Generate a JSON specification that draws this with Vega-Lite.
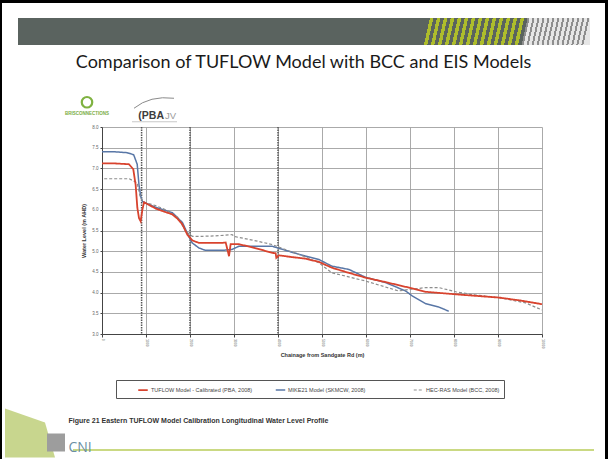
{
  "$schema": "https://vega.github.io/schema/vega-lite/v6.json",
  "padding": 0,
  "background": "#ffffff",
  "spacing": 0,
  "config": {"view": {"stroke": null}, "font": "Liberation Sans", "concat": {"spacing": 0}},
  "datasets": {
    "structures": [{"chainage": 900}, {"chainage": 2000}, {"chainage": 4000}],
    "profiles": [
      {"series": "MIKE21 Model (SKMCW, 2008)", "chainage": 0, "level": 7.40},
      {"series": "MIKE21 Model (SKMCW, 2008)", "chainage": 300, "level": 7.40},
      {"series": "MIKE21 Model (SKMCW, 2008)", "chainage": 570, "level": 7.38},
      {"series": "MIKE21 Model (SKMCW, 2008)", "chainage": 720, "level": 7.33},
      {"series": "MIKE21 Model (SKMCW, 2008)", "chainage": 800, "level": 7.10},
      {"series": "MIKE21 Model (SKMCW, 2008)", "chainage": 840, "level": 6.61},
      {"series": "MIKE21 Model (SKMCW, 2008)", "chainage": 880, "level": 6.32},
      {"series": "MIKE21 Model (SKMCW, 2008)", "chainage": 920, "level": 6.20},
      {"series": "MIKE21 Model (SKMCW, 2008)", "chainage": 1000, "level": 6.16},
      {"series": "MIKE21 Model (SKMCW, 2008)", "chainage": 1220, "level": 6.06},
      {"series": "MIKE21 Model (SKMCW, 2008)", "chainage": 1600, "level": 5.93},
      {"series": "MIKE21 Model (SKMCW, 2008)", "chainage": 1830, "level": 5.69},
      {"series": "MIKE21 Model (SKMCW, 2008)", "chainage": 1970, "level": 5.36},
      {"series": "MIKE21 Model (SKMCW, 2008)", "chainage": 2050, "level": 5.20},
      {"series": "MIKE21 Model (SKMCW, 2008)", "chainage": 2200, "level": 5.08},
      {"series": "MIKE21 Model (SKMCW, 2008)", "chainage": 2350, "level": 5.02},
      {"series": "MIKE21 Model (SKMCW, 2008)", "chainage": 2730, "level": 5.02},
      {"series": "MIKE21 Model (SKMCW, 2008)", "chainage": 2950, "level": 5.04},
      {"series": "MIKE21 Model (SKMCW, 2008)", "chainage": 3110, "level": 5.12},
      {"series": "MIKE21 Model (SKMCW, 2008)", "chainage": 3870, "level": 5.12},
      {"series": "MIKE21 Model (SKMCW, 2008)", "chainage": 4020, "level": 5.07},
      {"series": "MIKE21 Model (SKMCW, 2008)", "chainage": 4300, "level": 4.98},
      {"series": "MIKE21 Model (SKMCW, 2008)", "chainage": 4630, "level": 4.88},
      {"series": "MIKE21 Model (SKMCW, 2008)", "chainage": 4930, "level": 4.80},
      {"series": "MIKE21 Model (SKMCW, 2008)", "chainage": 5220, "level": 4.64},
      {"series": "MIKE21 Model (SKMCW, 2008)", "chainage": 5610, "level": 4.56},
      {"series": "MIKE21 Model (SKMCW, 2008)", "chainage": 5990, "level": 4.37},
      {"series": "MIKE21 Model (SKMCW, 2008)", "chainage": 6450, "level": 4.24},
      {"series": "MIKE21 Model (SKMCW, 2008)", "chainage": 6900, "level": 4.04},
      {"series": "MIKE21 Model (SKMCW, 2008)", "chainage": 7050, "level": 3.92},
      {"series": "MIKE21 Model (SKMCW, 2008)", "chainage": 7360, "level": 3.73},
      {"series": "MIKE21 Model (SKMCW, 2008)", "chainage": 7660, "level": 3.65},
      {"series": "MIKE21 Model (SKMCW, 2008)", "chainage": 7880, "level": 3.55},
      {"series": "HEC-RAS Model (BCC, 2008)", "chainage": 50, "level": 6.75},
      {"series": "HEC-RAS Model (BCC, 2008)", "chainage": 620, "level": 6.75},
      {"series": "HEC-RAS Model (BCC, 2008)", "chainage": 800, "level": 6.65},
      {"series": "HEC-RAS Model (BCC, 2008)", "chainage": 860, "level": 6.35},
      {"series": "HEC-RAS Model (BCC, 2008)", "chainage": 920, "level": 6.20},
      {"series": "HEC-RAS Model (BCC, 2008)", "chainage": 1000, "level": 6.17},
      {"series": "HEC-RAS Model (BCC, 2008)", "chainage": 1220, "level": 6.10},
      {"series": "HEC-RAS Model (BCC, 2008)", "chainage": 1450, "level": 6.00},
      {"series": "HEC-RAS Model (BCC, 2008)", "chainage": 1720, "level": 5.82},
      {"series": "HEC-RAS Model (BCC, 2008)", "chainage": 1902, "level": 5.48},
      {"series": "HEC-RAS Model (BCC, 2008)", "chainage": 2053, "level": 5.36},
      {"series": "HEC-RAS Model (BCC, 2008)", "chainage": 2280, "level": 5.36},
      {"series": "HEC-RAS Model (BCC, 2008)", "chainage": 2580, "level": 5.37},
      {"series": "HEC-RAS Model (BCC, 2008)", "chainage": 2955, "level": 5.40},
      {"series": "HEC-RAS Model (BCC, 2008)", "chainage": 3030, "level": 5.35},
      {"series": "HEC-RAS Model (BCC, 2008)", "chainage": 3500, "level": 5.25},
      {"series": "HEC-RAS Model (BCC, 2008)", "chainage": 3870, "level": 5.16},
      {"series": "HEC-RAS Model (BCC, 2008)", "chainage": 4020, "level": 5.10},
      {"series": "HEC-RAS Model (BCC, 2008)", "chainage": 4630, "level": 4.86},
      {"series": "HEC-RAS Model (BCC, 2008)", "chainage": 4930, "level": 4.72},
      {"series": "HEC-RAS Model (BCC, 2008)", "chainage": 5220, "level": 4.48},
      {"series": "HEC-RAS Model (BCC, 2008)", "chainage": 5990, "level": 4.28},
      {"series": "HEC-RAS Model (BCC, 2008)", "chainage": 6740, "level": 4.04},
      {"series": "HEC-RAS Model (BCC, 2008)", "chainage": 7000, "level": 4.08},
      {"series": "HEC-RAS Model (BCC, 2008)", "chainage": 7360, "level": 4.12},
      {"series": "HEC-RAS Model (BCC, 2008)", "chainage": 7660, "level": 4.12},
      {"series": "HEC-RAS Model (BCC, 2008)", "chainage": 8040, "level": 4.02},
      {"series": "HEC-RAS Model (BCC, 2008)", "chainage": 8420, "level": 3.95},
      {"series": "HEC-RAS Model (BCC, 2008)", "chainage": 9020, "level": 3.88},
      {"series": "HEC-RAS Model (BCC, 2008)", "chainage": 9630, "level": 3.75},
      {"series": "HEC-RAS Model (BCC, 2008)", "chainage": 10000, "level": 3.58},
      {"series": "TUFLOW Model - Calibrated (PBA, 2008)", "chainage": 0, "level": 7.12},
      {"series": "TUFLOW Model - Calibrated (PBA, 2008)", "chainage": 300, "level": 7.12},
      {"series": "TUFLOW Model - Calibrated (PBA, 2008)", "chainage": 614, "level": 7.10},
      {"series": "TUFLOW Model - Calibrated (PBA, 2008)", "chainage": 711, "level": 6.98},
      {"series": "TUFLOW Model - Calibrated (PBA, 2008)", "chainage": 765, "level": 6.60},
      {"series": "TUFLOW Model - Calibrated (PBA, 2008)", "chainage": 803, "level": 6.05},
      {"series": "TUFLOW Model - Calibrated (PBA, 2008)", "chainage": 841, "level": 5.80},
      {"series": "TUFLOW Model - Calibrated (PBA, 2008)", "chainage": 879, "level": 5.72},
      {"series": "TUFLOW Model - Calibrated (PBA, 2008)", "chainage": 917, "level": 6.00},
      {"series": "TUFLOW Model - Calibrated (PBA, 2008)", "chainage": 955, "level": 6.18},
      {"series": "TUFLOW Model - Calibrated (PBA, 2008)", "chainage": 1030, "level": 6.14},
      {"series": "TUFLOW Model - Calibrated (PBA, 2008)", "chainage": 1220, "level": 6.03},
      {"series": "TUFLOW Model - Calibrated (PBA, 2008)", "chainage": 1400, "level": 5.96},
      {"series": "TUFLOW Model - Calibrated (PBA, 2008)", "chainage": 1598, "level": 5.89},
      {"series": "TUFLOW Model - Calibrated (PBA, 2008)", "chainage": 1720, "level": 5.78},
      {"series": "TUFLOW Model - Calibrated (PBA, 2008)", "chainage": 1826, "level": 5.65},
      {"series": "TUFLOW Model - Calibrated (PBA, 2008)", "chainage": 1939, "level": 5.40},
      {"series": "TUFLOW Model - Calibrated (PBA, 2008)", "chainage": 2053, "level": 5.26},
      {"series": "TUFLOW Model - Calibrated (PBA, 2008)", "chainage": 2205, "level": 5.20},
      {"series": "TUFLOW Model - Calibrated (PBA, 2008)", "chainage": 2500, "level": 5.20},
      {"series": "TUFLOW Model - Calibrated (PBA, 2008)", "chainage": 2734, "level": 5.20},
      {"series": "TUFLOW Model - Calibrated (PBA, 2008)", "chainage": 2811, "level": 5.21},
      {"series": "TUFLOW Model - Calibrated (PBA, 2008)", "chainage": 2848, "level": 5.05},
      {"series": "TUFLOW Model - Calibrated (PBA, 2008)", "chainage": 2886, "level": 4.88},
      {"series": "TUFLOW Model - Calibrated (PBA, 2008)", "chainage": 2924, "level": 5.17},
      {"series": "TUFLOW Model - Calibrated (PBA, 2008)", "chainage": 3114, "level": 5.17},
      {"series": "TUFLOW Model - Calibrated (PBA, 2008)", "chainage": 3500, "level": 5.07},
      {"series": "TUFLOW Model - Calibrated (PBA, 2008)", "chainage": 3871, "level": 4.96},
      {"series": "TUFLOW Model - Calibrated (PBA, 2008)", "chainage": 3947, "level": 4.95},
      {"series": "TUFLOW Model - Calibrated (PBA, 2008)", "chainage": 3962, "level": 4.84},
      {"series": "TUFLOW Model - Calibrated (PBA, 2008)", "chainage": 4023, "level": 4.90},
      {"series": "TUFLOW Model - Calibrated (PBA, 2008)", "chainage": 4300, "level": 4.86},
      {"series": "TUFLOW Model - Calibrated (PBA, 2008)", "chainage": 4629, "level": 4.82},
      {"series": "TUFLOW Model - Calibrated (PBA, 2008)", "chainage": 4932, "level": 4.74},
      {"series": "TUFLOW Model - Calibrated (PBA, 2008)", "chainage": 5227, "level": 4.60},
      {"series": "TUFLOW Model - Calibrated (PBA, 2008)", "chainage": 5600, "level": 4.48},
      {"series": "TUFLOW Model - Calibrated (PBA, 2008)", "chainage": 5993, "level": 4.36},
      {"series": "TUFLOW Model - Calibrated (PBA, 2008)", "chainage": 6500, "level": 4.24},
      {"series": "TUFLOW Model - Calibrated (PBA, 2008)", "chainage": 6977, "level": 4.12},
      {"series": "TUFLOW Model - Calibrated (PBA, 2008)", "chainage": 7357, "level": 4.02},
      {"series": "TUFLOW Model - Calibrated (PBA, 2008)", "chainage": 7800, "level": 3.98},
      {"series": "TUFLOW Model - Calibrated (PBA, 2008)", "chainage": 8266, "level": 3.94},
      {"series": "TUFLOW Model - Calibrated (PBA, 2008)", "chainage": 9023, "level": 3.88},
      {"series": "TUFLOW Model - Calibrated (PBA, 2008)", "chainage": 9500, "level": 3.81},
      {"series": "TUFLOW Model - Calibrated (PBA, 2008)", "chainage": 10000, "level": 3.72}
    ]
  },
  "hconcat": [
    {"width": 2, "height": 459, "data": {"values": [{}]}, "mark": {"type": "rect", "color": "#000000"}},
    {
      "spacing": 0,
      "vconcat": [
        {"width": 603, "height": 3, "data": {"values": [{}]}, "mark": {"type": "rect", "color": "#000000"}},
        {"width": 603, "height": 15, "data": {"values": [{}]}, "mark": {"type": "rect", "opacity": 0}},
        {
          "spacing": 0,
          "hconcat": [
            {"width": 16, "height": 27, "data": {"values": [{}]}, "mark": {"type": "rect", "opacity": 0}},
            {"width": 572, "height": 27, "data": {"values": [{}]}, "mark": {"type": "rect", "color": {"gradient": "linear", "x1": 0, "y1": 0, "x2": 1, "y2": 0.0105, "stops": [
              {"offset": 0, "color": "#5a635f"}, {"offset": 0.72, "color": "#5a635f"},
              {"offset": 0.72, "color": "#aebd2b"}, {"offset": 0.7261, "color": "#aebd2b"}, {"offset": 0.7261, "color": "#5a635f"}, {"offset": 0.7322, "color": "#5a635f"},
              {"offset": 0.7322, "color": "#aebd2b"}, {"offset": 0.7383, "color": "#aebd2b"}, {"offset": 0.7383, "color": "#5a635f"}, {"offset": 0.7444, "color": "#5a635f"},
              {"offset": 0.7444, "color": "#aebd2b"}, {"offset": 0.7505, "color": "#aebd2b"}, {"offset": 0.7505, "color": "#5a635f"}, {"offset": 0.7566, "color": "#5a635f"},
              {"offset": 0.7566, "color": "#aebd2b"}, {"offset": 0.7627, "color": "#aebd2b"}, {"offset": 0.7627, "color": "#5a635f"}, {"offset": 0.7688, "color": "#5a635f"},
              {"offset": 0.7688, "color": "#aebd2b"}, {"offset": 0.7749, "color": "#aebd2b"}, {"offset": 0.7749, "color": "#5a635f"}, {"offset": 0.781, "color": "#5a635f"},
              {"offset": 0.781, "color": "#aebd2b"}, {"offset": 0.7871, "color": "#aebd2b"}, {"offset": 0.7871, "color": "#5a635f"}, {"offset": 0.7932, "color": "#5a635f"},
              {"offset": 0.7932, "color": "#aebd2b"}, {"offset": 0.7993, "color": "#aebd2b"}, {"offset": 0.7993, "color": "#5a635f"}, {"offset": 0.8054, "color": "#5a635f"},
              {"offset": 0.8054, "color": "#aebd2b"}, {"offset": 0.8115, "color": "#aebd2b"}, {"offset": 0.8115, "color": "#5a635f"}, {"offset": 0.8176, "color": "#5a635f"},
              {"offset": 0.8176, "color": "#aebd2b"}, {"offset": 0.8237, "color": "#aebd2b"}, {"offset": 0.8237, "color": "#5a635f"}, {"offset": 0.8298, "color": "#5a635f"},
              {"offset": 0.8298, "color": "#aebd2b"}, {"offset": 0.8359, "color": "#aebd2b"}, {"offset": 0.8359, "color": "#5a635f"}, {"offset": 0.842, "color": "#5a635f"},
              {"offset": 0.842, "color": "#aebd2b"}, {"offset": 0.8481, "color": "#aebd2b"}, {"offset": 0.8481, "color": "#5a635f"}, {"offset": 0.8542, "color": "#5a635f"},
              {"offset": 0.8542, "color": "#aebd2b"}, {"offset": 0.8603, "color": "#aebd2b"}, {"offset": 0.8603, "color": "#5a635f"}, {"offset": 0.8664, "color": "#5a635f"},
              {"offset": 0.8664, "color": "#aebd2b"}, {"offset": 0.8725, "color": "#aebd2b"}, {"offset": 0.8725, "color": "#5a635f"}, {"offset": 0.8786, "color": "#5a635f"},
              {"offset": 0.8786, "color": "#aebd2b"}, {"offset": 0.8847, "color": "#aebd2b"}, {"offset": 0.8847, "color": "#5a635f"}, {"offset": 0.8908, "color": "#5a635f"},
              {"offset": 0.8908, "color": "#8e8e8e"}, {"offset": 0.8943, "color": "#8e8e8e"}, {"offset": 0.8943, "color": "#e6e6e6"}, {"offset": 0.8995, "color": "#e6e6e6"},
              {"offset": 0.8995, "color": "#8e8e8e"}, {"offset": 0.903, "color": "#8e8e8e"}, {"offset": 0.903, "color": "#e6e6e6"}, {"offset": 0.9082, "color": "#e6e6e6"},
              {"offset": 0.9082, "color": "#8e8e8e"}, {"offset": 0.9117, "color": "#8e8e8e"}, {"offset": 0.9117, "color": "#e6e6e6"}, {"offset": 0.9169, "color": "#e6e6e6"},
              {"offset": 0.9169, "color": "#8e8e8e"}, {"offset": 0.9204, "color": "#8e8e8e"}, {"offset": 0.9204, "color": "#e6e6e6"}, {"offset": 0.9256, "color": "#e6e6e6"},
              {"offset": 0.9256, "color": "#8e8e8e"}, {"offset": 0.9291, "color": "#8e8e8e"}, {"offset": 0.9291, "color": "#e6e6e6"}, {"offset": 0.9343, "color": "#e6e6e6"},
              {"offset": 0.9343, "color": "#8e8e8e"}, {"offset": 0.9378, "color": "#8e8e8e"}, {"offset": 0.9378, "color": "#e6e6e6"}, {"offset": 0.943, "color": "#e6e6e6"},
              {"offset": 0.943, "color": "#8e8e8e"}, {"offset": 0.9465, "color": "#8e8e8e"}, {"offset": 0.9465, "color": "#e6e6e6"}, {"offset": 0.9517, "color": "#e6e6e6"},
              {"offset": 0.9517, "color": "#8e8e8e"}, {"offset": 0.9552, "color": "#8e8e8e"}, {"offset": 0.9552, "color": "#e6e6e6"}, {"offset": 0.9604, "color": "#e6e6e6"},
              {"offset": 0.9604, "color": "#8e8e8e"}, {"offset": 0.9639, "color": "#8e8e8e"}, {"offset": 0.9639, "color": "#e6e6e6"}, {"offset": 0.9691, "color": "#e6e6e6"},
              {"offset": 0.9691, "color": "#8e8e8e"}, {"offset": 0.9726, "color": "#8e8e8e"}, {"offset": 0.9726, "color": "#e6e6e6"}, {"offset": 0.9778, "color": "#e6e6e6"},
              {"offset": 0.9778, "color": "#8e8e8e"}, {"offset": 0.9813, "color": "#8e8e8e"}, {"offset": 0.9813, "color": "#e6e6e6"}, {"offset": 0.9865, "color": "#e6e6e6"},
              {"offset": 0.9865, "color": "#8e8e8e"}, {"offset": 0.99, "color": "#8e8e8e"}, {"offset": 0.99, "color": "#e6e6e6"}, {"offset": 0.9952, "color": "#e6e6e6"},
              {"offset": 0.9952, "color": "#8e8e8e"}, {"offset": 0.9987, "color": "#8e8e8e"}, {"offset": 0.9987, "color": "#e6e6e6"}, {"offset": 1, "color": "#e6e6e6"}
            ]}}}
          ]
        },
        {"width": 603, "height": 36, "data": {"values": [{"t": "Comparison of TUFLOW Model with BCC and EIS Models"}]}, "mark": {"type": "text", "font": "Lato", "fontSize": 18, "color": "#1a1a1a", "align": "center", "baseline": "middle"}, "encoding": {"text": {"field": "t"}}},
        {
          "spacing": 0,
          "hconcat": [
            {"width": 60, "height": 42.5, "data": {"values": [{}]}, "mark": {"type": "rect", "opacity": 0}},
            {"width": 50, "height": 42.5, "layer": [
              {"data": {"values": [{}]}, "mark": {"type": "point", "shape": "circle", "size": 110, "filled": false, "color": "#7fb241", "strokeWidth": 2.2, "opacity": 1}},
              {"data": {"values": [{"t": "BRISCONNECTIONS"}]}, "mark": {"type": "text", "fontSize": 4.5, "fontWeight": "bold", "color": "#7aad3f", "align": "center", "baseline": "middle", "dy": 12}, "encoding": {"text": {"field": "t"}}}
            ]},
            {"width": 18, "height": 42.5, "data": {"values": [{}]}, "mark": {"type": "rect", "opacity": 0}},
            {"width": 60, "height": 42.5, "layer": [
              {"data": {"values": [{}]}, "mark": {"type": "point", "shape": "M -30 6 Q -14 -7 10 -4", "size": 4, "filled": false, "color": "#8a8a8a", "strokeWidth": 1, "opacity": 1}},
              {"data": {"values": [{}]}, "mark": {"type": "point", "shape": "M -32 19.5 L 13 19.5", "size": 4, "filled": false, "color": "#bbbbbb", "strokeWidth": 0.8, "opacity": 1}},
              {"data": {"values": [{"t": "(PBA"}]}, "mark": {"type": "text", "fontSize": 10.5, "fontWeight": "bold", "color": "#3d3d3d", "align": "right", "baseline": "alphabetic", "dy": 16.5}, "encoding": {"text": {"field": "t"}}},
              {"data": {"values": [{"t": "JV"}]}, "mark": {"type": "text", "fontSize": 9.5, "color": "#9a9a9a", "align": "left", "baseline": "alphabetic", "dx": 1, "dy": 16.5}, "encoding": {"text": {"field": "t"}}}
            ]}
          ]
        },
        {
          "spacing": 0,
          "hconcat": [
            {"width": 79, "height": 10, "data": {"values": [{}]}, "mark": {"type": "rect", "opacity": 0}},
            {
              "width": 440,
              "height": 207,
              "layer": [
                {
                  "data": {"name": "structures"},
                  "mark": {"type": "rule", "color": "#555555", "strokeWidth": 1.5, "strokeDash": [1.5, 1]},
                  "encoding": {
                    "x": {"field": "chainage", "type": "quantitative", "title": "Chainage from Sandgate Rd (m)"}
                  }
                },
                {
                  "data": {"name": "profiles"},
                  "mark": {"type": "line"},
                  "encoding": {
                    "x": {"field": "chainage", "type": "quantitative", "title": "Chainage from Sandgate Rd (m)",
                      "scale": {"domain": [0, 10000], "nice": false},
                      "axis": {"values": [0, 1000, 2000, 3000, 4000, 5000, 6000, 7000, 8000, 9000, 10000], "format": "d", "grid": true, "gridColor": "#a0a0a0", "gridWidth": 0.9, "domainColor": "#444444", "tickColor": "#444444", "tickSize": 3, "labelAngle": 90, "labelFontSize": 3.5, "labelColor": "#555555", "labelPadding": 1.5, "titleFontSize": 5.5, "titleFontWeight": "bold", "titleColor": "#333333", "titleY": 20, "titleBaseline": "middle"}},
                    "y": {"field": "level", "type": "quantitative", "title": "Water Level (m AHD)",
                      "scale": {"domain": [3, 8], "nice": false, "zero": false},
                      "axis": {"values": [3, 3.5, 4, 4.5, 5, 5.5, 6, 6.5, 7, 7.5, 8], "grid": true, "gridColor": "#a0a0a0", "gridWidth": 0.9, "domainColor": "#444444", "tickColor": "#444444", "tickSize": 2, "labelFontSize": 4.5, "labelColor": "#666666", "labelPadding": 2, "titleFontSize": 5.5, "titleFontWeight": "bold", "titleColor": "#333333", "titleX": -19, "titleBaseline": "middle"}},
                    "color": {"field": "series", "type": "nominal",
                      "scale": {"domain": ["TUFLOW Model - Calibrated (PBA, 2008)", "MIKE21 Model (SKMCW, 2008)", "HEC-RAS Model (BCC, 2008)"], "range": ["#d8432e", "#5876a6", "#8d8d8d"]},
                      "legend": {"orient": "none", "legendX": 116, "legendY": 380, "direction": "horizontal", "title": "\u00a0", "titleOrient": "left", "titlePadding": 17, "titleFontSize": 5.5, "padding": 4, "strokeColor": "#555555", "labelFontSize": 5.5, "labelColor": "#444444", "symbolType": "stroke", "symbolSize": 90, "symbolStrokeWidth": 1.5, "labelOffset": 2, "columnPadding": 19, "gridAlign": "all", "labelLimit": 300, "labelExpr": "datum.label == 'HEC-RAS Model (BCC, 2008)' ? datum.label + '\u00a0\u00a0\u00a0\u00a0\u00a0' : datum.label"}},
                    "strokeDash": {"field": "series", "type": "nominal",
                      "scale": {"domain": ["TUFLOW Model - Calibrated (PBA, 2008)", "MIKE21 Model (SKMCW, 2008)", "HEC-RAS Model (BCC, 2008)"], "range": [[1, 0], [1, 0], [3, 2]]},
                      "legend": {"orient": "none", "legendX": 116, "legendY": 380, "direction": "horizontal", "title": "\u00a0", "titleOrient": "left", "titlePadding": 17, "titleFontSize": 5.5, "padding": 4, "strokeColor": "#555555", "labelFontSize": 5.5, "labelColor": "#444444", "symbolType": "stroke", "symbolSize": 90, "symbolStrokeWidth": 1.5, "labelOffset": 2, "columnPadding": 19, "gridAlign": "all", "labelLimit": 300, "labelExpr": "datum.label == 'HEC-RAS Model (BCC, 2008)' ? datum.label + '\u00a0\u00a0\u00a0\u00a0\u00a0' : datum.label"}},
                    "strokeWidth": {"field": "series", "type": "nominal",
                      "scale": {"domain": ["TUFLOW Model - Calibrated (PBA, 2008)", "MIKE21 Model (SKMCW, 2008)", "HEC-RAS Model (BCC, 2008)"], "range": [1.8, 1.2, 1]},
                      "legend": null}
                  }
                }
              ]
            }
          ]
        },
        {"width": 603, "height": 40.25, "data": {"values": [{}]}, "mark": {"type": "rect", "opacity": 0}},
        {
          "spacing": 0,
          "hconcat": [
            {"width": 66, "height": 63, "layer": [
              {"data": {"values": [{}]}, "mark": {"type": "point", "shape": "M -30 -22 L 10 -8 L 20 27 L -30 27 Z", "size": 4, "filled": true, "color": "#c8d68e", "opacity": 1}},
              {"data": {"values": [{}]}, "mark": {"type": "point", "shape": "M 12 3 L 30 3 L 30 21 L 12 21 Z", "size": 4, "filled": true, "color": "#9d9d9d", "opacity": 1}}
            ]},
            {"width": 1, "height": 63, "layer": [
              {"data": {"values": [{"t": "Figure 21  Eastern TUFLOW Model Calibration Longitudinal Water Level Profile"}]}, "mark": {"type": "text", "align": "left", "baseline": "middle", "fontSize": 7, "fontWeight": "bold", "color": "#333333", "dy": -9.5}, "encoding": {"text": {"field": "t"}}},
              {"data": {"values": [{}]}, "mark": {"type": "point", "shape": "M 4.5 19.5 L 525.5 19.5", "size": 4, "filled": false, "color": "#b9cc5a", "strokeWidth": 1.5, "opacity": 1}},
              {"data": {"values": [{"t": "CNI"}]}, "mark": {"type": "text", "align": "left", "baseline": "alphabetic", "font": "Open Sans", "fontSize": 14, "color": "#6b8fa3", "dy": 21.5}, "encoding": {"text": {"field": "t"}}}
            ]}
          ]
        }
      ]
    },
    {"width": 3, "height": 459, "data": {"values": [{}]}, "mark": {"type": "rect", "color": "#000000"}}
  ]
}
